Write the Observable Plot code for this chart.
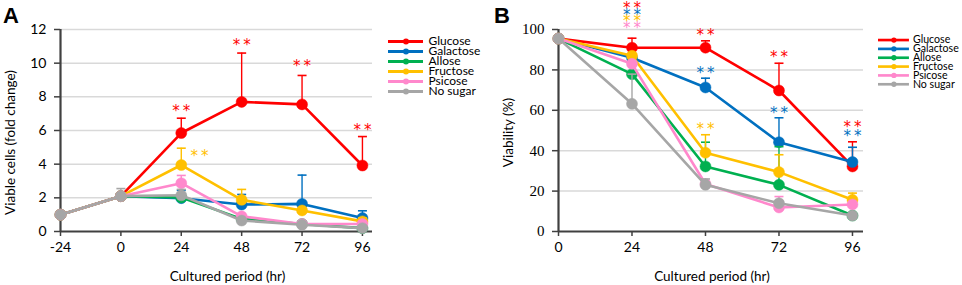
<!DOCTYPE html>
<html>
<head>
<meta charset="utf-8">
<script src="https://cdn.jsdelivr.net/npm/d3@7"></script>
<script src="https://cdn.jsdelivr.net/npm/@observablehq/plot@0.6"></script>
<style>
  body { margin: 0; background: #fff; }
  #wrap { position: relative; width: 962px; height: 285px; background: #fff; overflow: hidden; }
  .abs { position: absolute; }
  .panel { font: bold 22px "Liberation Sans", Arial, sans-serif; line-height: 22px; color: #000; }
</style>
</head>
<body>
<div id="wrap">
  <div id="A" class="abs" style="left:0;top:0"></div>
  <div id="B" class="abs" style="left:481px;top:0"></div>
  <div id="legA" class="abs" style="left:388px;top:27px"></div>
  <div id="legB" class="abs" style="left:878px;top:29px"></div>
  <div class="abs panel" style="left:3px;top:5px">A</div>
  <div class="abs panel" style="left:494px;top:5px">B</div>
</div>
<script>
// ---------- data ----------
const series = ["Glucose", "Galactose", "Allose", "Fructose", "Psicose", "No sugar"];
const colors = ["#ff0000", "#0070c0", "#00b050", "#ffc000", "#ff88cc", "#a6a6a6"];

// Panel A: viable cells (fold change)
const hoursA = [-24, 0, 24, 48, 72, 96];
const valuesA = {
  "Glucose":   [1, 2.1, 5.85, 7.7, 7.55, 3.92],
  "Galactose": [1, 2.1, 1.98, 1.6, 1.64, 0.8],
  "Allose":    [1, 2.1, 2.02, 0.75, 0.45, 0.2],
  "Fructose":  [1, 2.1, 3.95, 1.88, 1.25, 0.6],
  "Psicose":   [1, 2.1, 2.87, 0.9, 0.45, 0.45],
  "No sugar":  [1, 2.1, 2.15, 0.65, 0.4, 0.2]
};
const errTopA = {
  "Glucose":   [null, null, 6.73, 10.6, 9.27, 5.64],
  "Galactose": [null, null, 2.45, 2.2, 3.35, 1.23],
  "Allose":    [null, null, null, null, 0.6, 0.3],
  "Fructose":  [null, null, 4.95, 2.5, null, 0.8],
  "Psicose":   [null, null, 3.33, 1.0, null, null],
  "No sugar":  [null, 2.55, 2.5, null, null, null]
};
// significance markers A
const starSeriesA = ["Glucose", "Glucose", "Glucose", "Glucose", "Fructose"];
const starHourA   = [24, 48, 72, 96, 31.2];
const starLevelA  = [7.31, 11.23, 9.98, 6.18, 4.63];

// Panel B: viability (%)
const hoursB = [0, 24, 48, 72, 96];
const valuesB = {
  "Glucose":   [95.5, 91, 91, 69.8, 32.2],
  "Galactose": [95.5, 86, 71.3, 44.2, 34.4],
  "Allose":    [95.5, 77.9, 32.2, 23.1, 7.9],
  "Fructose":  [95.5, 87, 39, 29.4, 15.7],
  "Psicose":   [95.5, 83, 23.5, 11.9, 13.4],
  "No sugar":  [95.5, 63.2, 23.1, 14, 7.9]
};
const errTopB = {
  "Glucose":   [null, 95.7, 94.4, 83.3, 44.4],
  "Galactose": [null, null, 75.9, 56.3, 41.7],
  "Allose":    [null, null, 44.2, 42, 9],
  "Fructose":  [null, null, 47.9, 38, 19],
  "Psicose":   [null, null, 24.5, 17.3, null],
  "No sugar":  [null, 77.9, 26, 15, 9]
};
const starSeriesB = ["Glucose", "Galactose", "Fructose", "Psicose", "Glucose", "Galactose", "Fructose", "Glucose", "Galactose", "Glucose", "Galactose"];
const starHourB   = [24, 24, 24, 24, 48, 48, 48, 72, 72, 96, 96];
const starLevelB  = [111.9, 108.6, 105.6, 102, 98.5, 79.7, 52.1, 87.6, 59.9, 52.9, 48.6];

const ticksA = [-24, 0, 24, 48, 72, 96];
const yTicksA = [0, 2, 4, 6, 8, 10, 12];
const ticksB = [0, 24, 48, 72, 96];
const yTicksB = [0, 20, 40, 60, 80, 100];

// ---------- helpers ----------
const SANS = 'Lato, "Open Sans", sans-serif';
const STARFONT = '"DejaVu Sans", sans-serif';
const AXIS = "#404040";
const plain = d => String(d);
const capSymbol = {
  draw(ctx, size) {
    const r = Math.sqrt(size / Math.PI);
    ctx.moveTo(-r, 0);
    ctx.lineTo(r, 0);
  }
};

function rows(hours, values, errs) {
  const out = [];
  for (const s of series) {
    hours.forEach((h, i) => out.push({series: s, x: h, y: values[s][i], err: errs[s][i]}));
  }
  return out;
}

function seriesMarks(data) {
  const marks = [];
  for (const s of series) {
    const d = data.filter(r => r.series === s);
    const e = d.filter(r => r.err != null);
    marks.push(
      Plot.ruleX(e, {x: "x", y1: "y", y2: "err", stroke: "series", strokeWidth: 1.4}),
      Plot.dot(e, {x: "x", y: "err", symbol: capSymbol, r: 4.5, fill: "none", stroke: "series", strokeWidth: 1.6}),
      Plot.line(d, {x: "x", y: "y", stroke: "series", strokeWidth: 2.6}),
      Plot.dot(d, {x: "x", y: "y", r: 5.5, fill: "series", stroke: "series", strokeWidth: 0.5})
    );
  }
  return marks;
}

function stars(ser, hrs, lev) {
  return ser.map((s, i) => ({series: s, x: hrs[i], y: lev[i]}));
}
function starMark(data) {
  return Plot.text(data, {x: "x", y: "y", text: () => "*\u2009*", fill: "series", fontSize: 15, fontFamily: STARFONT, dy: 3});
}

const colorScale = {domain: series, range: colors};

// ---------- Panel A ----------
const dataA = rows(hoursA, valuesA, errTopA);
const plotA = Plot.plot({
  width: 481, height: 285,
  marginLeft: 60, marginRight: 109, marginTop: 29, marginBottom: 54,
  style: {fontFamily: SANS, fontSize: "14px", color: "#000", background: "transparent", overflow: "visible"},
  x: {domain: [-24, 100]},
  y: {domain: [0, 12]},
  color: colorScale,
  marks: [
    Plot.gridY(yTicksA.filter(t => t > 0), {stroke: "#d9d9d9", strokeOpacity: 1, strokeWidth: 1.5}),
    Plot.axisY(yTicksA, {tickSize: 6, tickPadding: 8, stroke: AXIS, strokeWidth: 1.5, label: null, fontSize: 14, tickFormat: plain}),
    Plot.axisX(ticksA, {tickSize: 5, tickPadding: 6, stroke: AXIS, strokeWidth: 1.5, label: null, fontSize: 14, tickFormat: plain}),
    Plot.ruleY([0], {stroke: AXIS, strokeWidth: 2.2}),
    Plot.ruleX([-24], {stroke: AXIS, strokeWidth: 2.2}),
    ...seriesMarks(dataA),
    starMark(stars(starSeriesA, starHourA, starLevelA)),
    Plot.text(["Cultured period (hr)"], {frameAnchor: "bottom", dy: 45, dx: 11, fontSize: 13.5, lineAnchor: "middle", textAnchor: "middle"}),
    Plot.text(["Viable cells (fold change)"], {frameAnchor: "left", rotate: -90, dx: -50, dy: 12, fontSize: 13.5, textAnchor: "middle", lineAnchor: "middle"})
  ]
});
document.getElementById("A").appendChild(plotA);

// ---------- Panel B ----------
const dataB = rows(hoursB, valuesB, errTopB);
const plotB = Plot.plot({
  width: 481, height: 285,
  marginLeft: 77, marginRight: 99, marginTop: 29, marginBottom: 54,
  style: {fontFamily: SANS, fontSize: "14px", color: "#000", background: "transparent", overflow: "visible"},
  x: {domain: [0, 99.6]},
  y: {domain: [0, 100]},
  color: colorScale,
  marks: [
    Plot.gridY(yTicksB.filter(t => t > 0), {stroke: "#d9d9d9", strokeOpacity: 1, strokeWidth: 1.5}),
    Plot.axisY(yTicksB, {tickSize: 6, tickPadding: 8, stroke: AXIS, strokeWidth: 1.5, label: null, fontSize: 15, tickFormat: plain, fontFamily: '"Liberation Serif", "DejaVu Serif", serif'}),
    Plot.axisX(ticksB, {tickSize: 5, tickPadding: 6, stroke: AXIS, strokeWidth: 1.5, label: null, fontSize: 14, tickFormat: plain}),
    Plot.ruleY([0], {stroke: AXIS, strokeWidth: 2.2}),
    Plot.ruleX([0], {stroke: AXIS, strokeWidth: 2.2}),
    ...seriesMarks(dataB),
    starMark(stars(starSeriesB, starHourB, starLevelB)),
    Plot.text(["Cultured period (hr)"], {frameAnchor: "bottom", dy: 45, dx: 1, fontSize: 13.5, lineAnchor: "middle", textAnchor: "middle"}),
    Plot.text(["Viability (%)"], {frameAnchor: "left", rotate: -90, dx: -50, dy: 2, fontSize: 13.5, textAnchor: "middle", lineAnchor: "middle"})
  ]
});
document.getElementById("B").appendChild(plotB);

// ---------- Legends ----------
function legend(step, textDx) {
  return Plot.plot({
    width: 95, height: 12 + step * 5,
    margin: 0,
    style: {fontFamily: SANS, fontSize: "12px", color: "#000", background: "transparent", overflow: "visible"},
    x: {domain: [0, 1], range: [0, 35], axis: null},
    y: {type: "point", domain: series, range: [6, 6 + step * 5], axis: null},
    color: colorScale,
    marks: [
      Plot.ruleY(series, {y: d => d, x1: 0, x2: 1, stroke: d => d, strokeWidth: 3}),
      Plot.dot(series, {x: 0.5, y: d => d, r: 3, fill: d => d}),
      Plot.text(series, {x: 1, y: d => d, text: d => d, dx: textDx, textAnchor: "start"})
    ]
  });
}
document.getElementById("legA").appendChild(legend(13, 5));
document.getElementById("legB").appendChild(legend(12.2, 4));
</script>
</body>
</html>
